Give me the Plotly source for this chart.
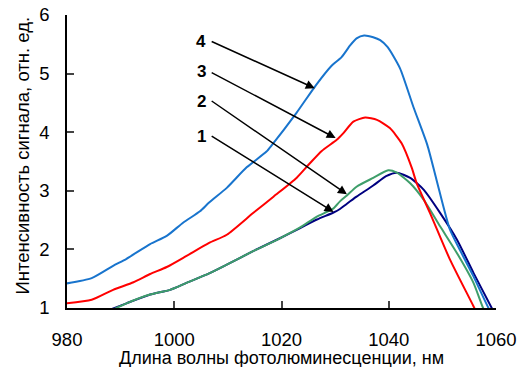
import plotly.graph_objects as go

# Curve 4 (blue)
x4 = [980, 984.6, 988.6, 991.1, 995.5, 998.6, 1001.7, 1004.8, 1006.5, 1009.8, 1013.5, 1017.2, 1018.2,
      1022.8, 1026.4, 1029.3, 1031.2, 1032.8, 1034.0, 1035.4, 1037.1, 1038.4, 1039.8, 1042.1, 1044.6,
      1047.2, 1048.9, 1051.4, 1053.5, 1055.8, 1058.6, 1059.5]
y4 = [1.42, 1.51, 1.72, 1.84, 2.09, 2.23, 2.46, 2.65, 2.80, 3.05, 3.40, 3.67, 3.78,
      4.33, 4.80, 5.13, 5.28, 5.48, 5.60, 5.65, 5.62, 5.57, 5.45, 5.09, 4.43,
      3.78, 3.19, 2.34, 1.95, 1.54, 1.0, 0.87]

# Curve 3 (red)
x3 = [980, 984.6, 988.6, 992.4, 995.5, 998.6, 1002.3, 1006.5, 1009.8, 1014.7, 1018.5, 1022.8, 1025.3,
      1027.5, 1030.3, 1031.5, 1033.4, 1035.6, 1037.8, 1040.2, 1042.4, 1044.3, 1045.2, 1047.7, 1051.4,
      1055.8, 1057]
y3 = [1.08, 1.14, 1.31, 1.44, 1.58, 1.70, 1.89, 2.11, 2.25, 2.62, 2.90, 3.22, 3.47,
      3.68, 3.87, 3.98, 4.18, 4.25, 4.21, 4.07, 3.81, 3.39, 3.13, 2.62, 1.83,
      1.03, 0.8]

# Curve 2 (green)
x2 = [988.5, 991.1, 995.5, 999.2, 1002.3, 1006.5, 1009.8, 1014.7, 1019.7, 1023.4, 1026.6, 1029.7,
      1030.9, 1032.2, 1034, 1037.1, 1039.9, 1041.5, 1044, 1046.5, 1049.6, 1052.7, 1055.8, 1057.6, 1058.5]
y2 = [0.97, 1.08, 1.23, 1.31, 1.43, 1.59, 1.74, 1.97, 2.19, 2.37, 2.56, 2.70,
      2.82, 2.92, 3.07, 3.22, 3.35, 3.31, 3.13, 2.85, 2.39, 1.94, 1.43, 1.0, 0.85]

# Curve 1 (navy)
x1 = [988, 991.1, 995.5, 999.2, 1002.3, 1006.5, 1009.8, 1014.7, 1019.7, 1023.4, 1026.6, 1029.7,
      1030.9, 1032.2, 1034, 1037.1, 1039.5, 1041.5, 1044, 1046.5, 1049.6, 1052.7, 1055.8, 1059.2, 1060]
y1 = [0.97, 1.08, 1.23, 1.31, 1.43, 1.59, 1.74, 1.97, 2.19, 2.36, 2.51, 2.63,
      2.69, 2.78, 2.90, 3.09, 3.25, 3.31, 3.22, 3.02, 2.62, 2.17, 1.60, 1.0, 0.85]

labels = ["4", "3", "2", "1"]
label_x = [1005.0, 1005.0, 1005.0, 1005.0]
label_y = [5.54, 5.03, 4.53, 3.92]
arrow_tail_x = [1006.7, 1006.7, 1006.7, 1006.7]
arrow_tail_y = [5.56, 5.03, 4.55, 3.95]
arrow_head_x = [1026.2, 1030.1, 1032.2, 1029.7]
arrow_head_y = [4.75, 3.90, 2.94, 2.64]

xticks = [980, 1000, 1020, 1040, 1060]
yticks = [1, 2, 3, 4, 5, 6]
x_title = "Длина волны фотолюминесценции, нм"
y_title = "Интенсивность сигнала, отн. ед."

fig = go.Figure()
series = [(x1, y1, "#000080"), (x2, y2, "#3E9E6A"), (x3, y3, "#FF0000"), (x4, y4, "#1874CD")]
for xs, ys, c in series:
    fig.add_trace(go.Scatter(x=xs, y=ys, mode="lines",
                             line=dict(color=c, width=2, shape="spline", smoothing=0.6),
                             showlegend=False, hoverinfo="skip"))

annotations = []
for t, lx, ly in zip(labels, label_x, label_y):
    annotations.append(dict(x=lx, y=ly, xref="x", yref="y", text="<b>%s</b>" % t,
                            showarrow=False, font=dict(family="Liberation Sans", size=17, color="black")))
for tx, ty, hx, hy in zip(arrow_tail_x, arrow_tail_y, arrow_head_x, arrow_head_y):
    annotations.append(dict(x=hx, y=hy, ax=tx, ay=ty, xref="x", yref="y", axref="x", ayref="y",
                            text="", showarrow=True, arrowhead=2, arrowsize=1.2, arrowwidth=1.5,
                            arrowcolor="black"))
annotations.append(dict(x=0.5, y=0, xref="paper", yref="paper", yshift=-50, text=x_title,
                        showarrow=False, xanchor="center", yanchor="middle",
                        font=dict(size=18)))
annotations.append(dict(x=0, y=0.5, xref="paper", yref="paper", xshift=-45, yshift=6, text=y_title,
                        showarrow=False, xanchor="center", yanchor="middle", textangle=-90,
                        font=dict(size=18.5)))

fig.update_layout(
    width=523, height=367,
    margin=dict(l=67, r=27, t=15, b=59, autoexpand=False),
    plot_bgcolor="white", paper_bgcolor="white",
    font=dict(family="Liberation Sans", size=18.5, color="black"),
    annotations=annotations,
    xaxis=dict(range=[980, 1060], tickvals=xticks, ticks="inside", ticklen=7, tickwidth=1.5,
               showline=True, linecolor="black", linewidth=1.5, showgrid=False, zeroline=False,
               tickfont=dict(size=18.5), ticklabelstandoff=14, automargin=False),
    yaxis=dict(range=[1, 6], tickvals=yticks, ticks="inside", ticklen=7, tickwidth=1.5,
               showline=True, linecolor="black", linewidth=1.5, showgrid=False, zeroline=False,
               tickfont=dict(size=18.5), ticklabelstandoff=12, automargin=False),
)

fig.write_html("out.html", config={"displayModeBar": False},
               post_script="document.body.style.margin='0';document.body.style.overflow='hidden';")
